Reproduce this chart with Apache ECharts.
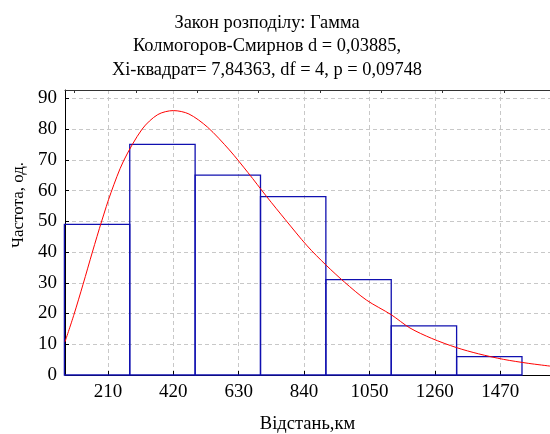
<!DOCTYPE html>
<html>
<head>
<meta charset="utf-8">
<script src="https://cdn.jsdelivr.net/npm/echarts@6/dist/echarts.min.js"></script>
<style>
html,body{margin:0;padding:0;background:#fff;}
#chart{width:550px;height:434px;}
</style>
</head>
<body>
<div id="chart"></div>
<script>
// ---- data ----
const titleLines = [
  'Закон розподілу: Гамма',
  'Колмогоров-Смирнов d = 0,03885,',
  'Xi-квадрат= 7,84363, df = 4, p = 0,09748'
];
const xName = 'Відстань,км';
const yName = 'Частота, од.';
const binEdges = [70, 280, 490, 700, 910, 1120, 1330, 1540];
const counts = [49, 75, 65, 58, 31, 16, 6];
const xTicks = [210, 420, 630, 840, 1050, 1260, 1470];
const yTicks = [0, 10, 20, 30, 40, 50, 60, 70, 80, 90];
const topTicks = [103, 300, 497, 694, 891, 1088, 1285, 1482];
const curveX = [72, 100, 130, 160, 190, 220, 260, 320, 370, 420, 470, 530, 600, 660, 720, 780, 850, 910, 970, 1040, 1120, 1180, 1250, 1330, 1400, 1480, 1560, 1630];
const curveY = [10.8, 19.4, 29.5, 40, 50.1, 59.4, 69.6, 80, 84.7, 86, 84.9, 80.6, 73.2, 65.8, 58, 50.5, 42, 35.8, 30.2, 24.4, 19.6, 15.3, 11.9, 8.9, 6.9, 5.1, 3.8, 2.9];

const FONT = "'Liberation Serif', 'Times New Roman', 'DejaVu Serif', serif";
const histData = counts.map((c, i) => [binEdges[i], binEdges[i + 1], c]);
const curveData = curveX.map((x, i) => [x, curveY[i]]);

const chart = echarts.init(document.getElementById('chart'), null, {renderer: 'canvas'});
chart.setOption({
  backgroundColor: '#fff',
  animation: false,
  title: {
    text: titleLines.join('\n'),
    left: 262,
    textAlign: 'center',
    top: 6,
    textStyle: {fontFamily: FONT, fontSize: 18.4, fontWeight: 'normal', color: '#000', lineHeight: 23.5}
  },
  grid: {left: 65, right: 0, top: 90, bottom: 59, containLabel: false, outerBoundsMode: 'none'},
  xAxis: [{
    type: 'value', position: 'bottom', min: 72, max: 1630,
    name: xName, nameLocation: 'middle', nameGap: 40,
    nameTextStyle: {fontFamily: FONT, fontSize: 18.5, color: '#000'},
    axisLine: {show: true, lineStyle: {color: '#000', width: 1}},
    axisTick: {show: true, inside: true, length: 4, customValues: xTicks, lineStyle: {color: '#000'}},
    axisLabel: {customValues: xTicks, formatter: v => String(v), fontFamily: FONT, fontSize: 19, color: '#000', margin: 8},
    splitLine: {show: true, lineStyle: {color: '#c8c8c8', type: [4, 3], width: 1}}
  }, {
    type: 'value', position: 'top', min: 72, max: 1630,
    axisLine: {show: true, onZero: false, lineStyle: {color: '#333', width: 1}},
    axisTick: {show: true, inside: true, length: 3, customValues: topTicks, lineStyle: {color: '#333'}},
    axisLabel: {show: false},
    splitLine: {show: false}
  }],
  yAxis: {
    type: 'value', min: 0, max: 92.7,
    axisLine: {show: true, lineStyle: {color: '#000', width: 1}},
    axisTick: {show: true, inside: true, length: 4, customValues: yTicks, lineStyle: {color: '#000'}},
    axisLabel: {customValues: yTicks, fontFamily: FONT, fontSize: 19, color: '#000', margin: 8},
    splitLine: {show: true, lineStyle: {color: '#c8c8c8', type: [4, 3], width: 1}}
  },
  graphic: [{
    type: 'text',
    x: 19, y: 205, rotation: Math.PI / 2,
    style: {text: yName, fontFamily: FONT, fontSize: 17, fill: '#000', align: 'center', verticalAlign: 'middle'}
  }],
  series: [{
    type: 'custom',
    xAxisIndex: 0,
    data: histData,
    renderItem: function (params, api) {
      const p0 = api.coord([api.value(0), 0]);
      const p1 = api.coord([api.value(1), api.value(2)]);
      return {
        type: 'rect',
        shape: {x: p0[0], y: p1[1], width: p1[0] - p0[0], height: p0[1] - p1[1]},
        style: {fill: 'none', stroke: '#1010b0', lineWidth: 1.3}
      };
    },
    z: 3
  }, {
    type: 'line',
    xAxisIndex: 0,
    data: curveData,
    smooth: 0.3,
    showSymbol: false,
    lineStyle: {color: '#ff0000', width: 1},
    z: 4
  }]
});
</script>
</body>
</html>
